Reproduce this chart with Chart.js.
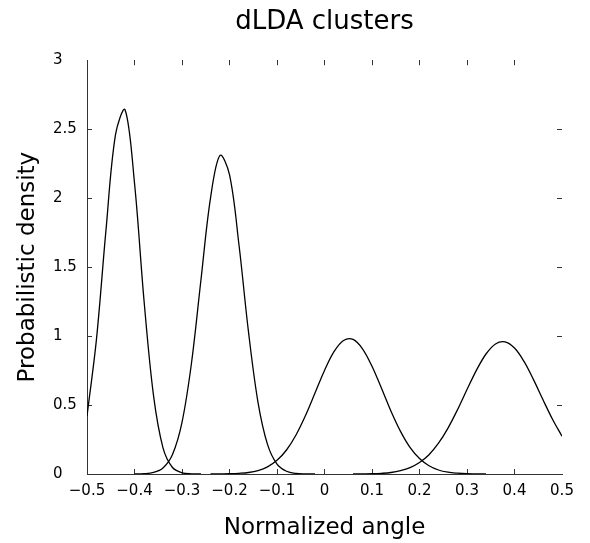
<!DOCTYPE html>
<html>
<head>
<meta charset="utf-8">
<title>dLDA clusters</title>
<script src="https://cdn.jsdelivr.net/npm/chart.js@4.4.1/dist/chart.umd.min.js"></script>
<style>
  html, body { margin: 0; padding: 0; background: #fff; }
</style>
</head>
<body>
<canvas id="chart" width="590" height="543"></canvas>
<script>
// normalized angle samples (shared x for every cluster)
const angles = [
  -0.50, -0.48, -0.46, -0.44, -0.42, -0.40, -0.38, -0.36, -0.34, -0.32,
  -0.30, -0.28, -0.26, -0.24, -0.22, -0.20, -0.18, -0.16, -0.14, -0.12,
  -0.10, -0.08, -0.06, -0.04, -0.02, 0.00, 0.02, 0.04, 0.06, 0.08,
  0.10, 0.12, 0.14, 0.16, 0.18, 0.20, 0.22, 0.24, 0.26, 0.28,
  0.30, 0.32, 0.34, 0.36, 0.38, 0.40, 0.42, 0.44, 0.46, 0.48, 0.50
];

// probabilistic density (null = not drawn)
const cluster1 = [
  0.42, 0.98, 1.77, 2.46, 2.64, 2.11, 1.26, 0.57, 0.19, 0.047,
  0.009, 0.001, 0, null, null, null, null, null, null, null,
  null, null, null, null, null, null, null, null, null, null,
  null, null, null, null, null, null, null, null, null, null,
  null, null, null, null, null, null, null, null, null, null, null
];
const cluster2 = [
  null, null, null, null, null, 0, 0.002, 0.011, 0.044, 0.142,
  0.375, 0.805, 1.41, 2.00, 2.31, 2.17, 1.66, 1.03, 0.52, 0.215,
  0.072, 0.020, 0.004, 0.001, 0, null, null, null, null, null,
  null, null, null, null, null, null, null, null, null, null,
  null, null, null, null, null, null, null, null, null, null, null
];
const cluster3 = [
  null, null, null, null, null, null, null, null, null, null,
  null, null, null, 0, 0.001, 0.002, 0.005, 0.011, 0.025, 0.052,
  0.099, 0.174, 0.283, 0.424, 0.587, 0.751, 0.887, 0.968, 0.976, 0.908,
  0.781, 0.621, 0.455, 0.309, 0.193, 0.112, 0.060, 0.029, 0.013, 0.006,
  0.002, 0.001, 0, null, null, null, null, null, null, null, null
];
const cluster4 = [
  null, null, null, null, null, null, null, null, null, null,
  null, null, null, null, null, null, null, null, null, null,
  null, null, null, null, null, null, null, null, 0, 0.001,
  0.002, 0.005, 0.011, 0.024, 0.046, 0.083, 0.140, 0.223, 0.333, 0.466,
  0.612, 0.753, 0.870, 0.943, 0.958, 0.913, 0.816, 0.684, 0.538, 0.397, 0.274
];

const xTickValues = [-0.5, -0.4, -0.3, -0.2, -0.1, 0, 0.1, 0.2, 0.3, 0.4, 0.5];
const yTickValues = [0, 0.5, 1, 1.5, 2, 2.5, 3];

Chart.defaults.font.family = "'DejaVu Sans', sans-serif";
Chart.defaults.color = '#000';

const axisColor = '#333';

function fmt(v) {
  return String(Math.round(v * 10) / 10).replace('-', '\u2212');
}

// no tick marks at the very ends of an axis
function tickColor(n) {
  return ctx => (ctx.index === 0 || ctx.index === n - 1) ? 'rgba(0,0,0,0)' : axisColor;
}

function toPoints(vals) {
  return angles.map((a, i) => ({ x: a, y: vals[i] })).filter(p => p.y !== null);
}

const datasets = [cluster1, cluster2, cluster3, cluster4].map(vals => ({
  data: toPoints(vals),
  borderColor: '#000',
  borderWidth: 1.3,
  pointRadius: 0,
  fill: false,
  tension: 0.35
}));

new Chart(document.getElementById('chart'), {
  type: 'line',
  data: { datasets: datasets },
  options: {
    responsive: false,
    animation: false,
    layout: { padding: { left: 0, right: 28, top: 0, bottom: 0 } },
    plugins: {
      legend: { display: false },
      tooltip: { enabled: false },
      title: {
        display: true,
        text: 'dLDA clusters',
        fullSize: false,
        color: '#000',
        font: { size: 26, weight: 'normal' },
        padding: { top: 7, bottom: 22 }
      }
    },
    scales: {
      x: {
        type: 'linear',
        position: 'bottom',
        min: -0.5,
        max: 0.5,
        afterBuildTicks: s => { s.ticks = xTickValues.map(v => ({ value: v })); },
        afterFit: s => { s.height = 69; },
        ticks: { font: { size: 15 }, padding: 13, maxRotation: 0, autoSkip: false, callback: v => fmt(v) },
        grid: { drawOnChartArea: false, tickLength: -5, color: tickColor(xTickValues.length) },
        border: { color: axisColor },
        title: { display: true, text: 'Normalized angle', font: { size: 23 }, padding: { top: 0, bottom: 1 } }
      },
      y: {
        type: 'linear',
        position: 'left',
        min: 0,
        max: 3,
        afterBuildTicks: s => { s.ticks = yTickValues.map(v => ({ value: v })); },
        afterFit: s => { s.width = 34; },
        ticks: { font: { size: 15 }, crossAlign: 'far', autoSkip: false, callback: v => fmt(v) },
        grid: { drawOnChartArea: false, tickLength: -5, color: tickColor(yTickValues.length) },
        border: { color: axisColor }
      },
      // outer left box that only carries the y title
      yTitle: {
        type: 'linear',
        position: 'left',
        weight: 10,
        afterFit: s => { s.width = 53; },
        ticks: { display: false },
        grid: { display: false },
        border: { display: false },
        title: { display: true, text: 'Probabilistic density', font: { size: 23 }, padding: { top: 14, bottom: 0 } }
      },
      xTop: {
        type: 'linear',
        position: 'top',
        min: -0.5,
        max: 0.5,
        afterBuildTicks: s => { s.ticks = xTickValues.map(v => ({ value: v })); },
        afterFit: s => { s.height = 0; },
        ticks: { display: false },
        grid: { drawOnChartArea: false, tickLength: -5, color: tickColor(xTickValues.length) },
        border: { display: false }
      },
      yRight: {
        type: 'linear',
        position: 'right',
        min: 0,
        max: 3,
        afterBuildTicks: s => { s.ticks = yTickValues.map(v => ({ value: v })); },
        afterFit: s => { s.width = 0; },
        ticks: { display: false },
        grid: { drawOnChartArea: false, tickLength: -5, color: tickColor(yTickValues.length) },
        border: { display: false }
      }
    }
  }
});
</script>
</body>
</html>
